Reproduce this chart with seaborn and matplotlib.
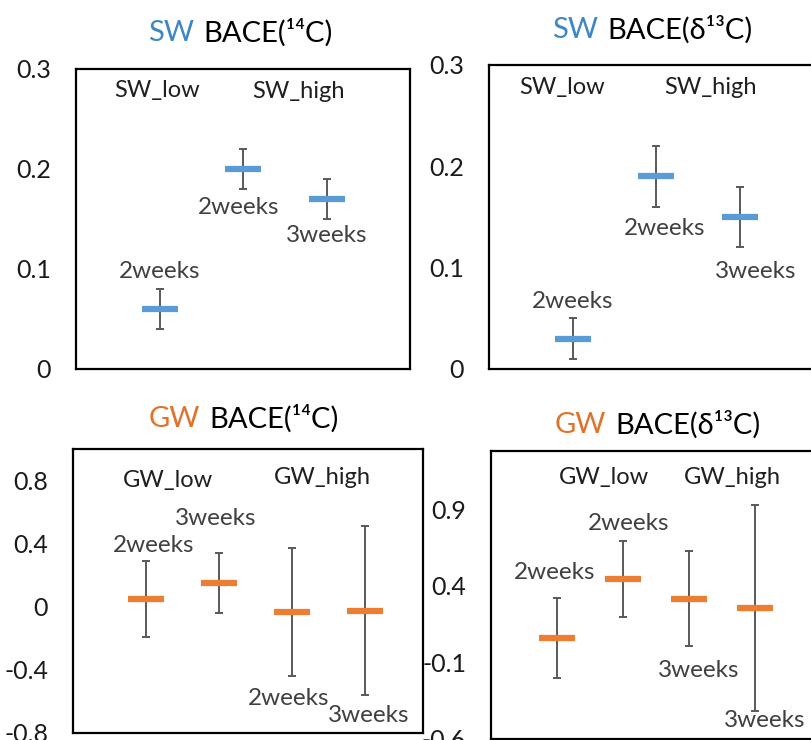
import matplotlib
matplotlib.use("Agg")
import matplotlib.pyplot as plt
import seaborn as sns
import numpy as np

# values
pos3 = [1, 2, 3]
pos4 = [1, 2, 3, 4]

sw14_mean = [0.06, 0.20, 0.17]
sw14_err = [0.02, 0.02, 0.02]
sw14_labels = ["2weeks", "2weeks", "3weeks"]

sw13_mean = [0.03, 0.19, 0.15]
sw13_err = [0.02, 0.03, 0.03]
sw13_labels = ["2weeks", "2weeks", "3weeks"]

gw14_mean = [0.05, 0.15, -0.035, -0.025]
gw14_err = [0.24, 0.19, 0.405, 0.535]
gw14_labels = ["2weeks", "3weeks", "2weeks", "3weeks"]

gw13_mean = [0.06, 0.445, 0.315, 0.255]
gw13_err = [0.26, 0.25, 0.31, 0.67]
gw13_labels = ["2weeks", "2weeks", "3weeks", "3weeks"]

sw_groups = ["SW_low", "SW_high"]
gw_groups = ["GW_low", "GW_high"]

BLUE = "#5B9BD5"
ORANGE = "#ED7D31"
TITLE_BLUE = "#3E86C6"
TITLE_ORANGE = "#E0732A"
GREY = "#595959"

sns.set_style("white")
plt.rcParams['font.family'] = ['Lato', 'DejaVu Sans']

W, H = 811, 740
fig = plt.figure(figsize=(W / 100, H / 100), dpi=100)


def box(x0, x1, y0, y1):
    # pixel box -> figure fraction rect
    return [x0 / W, 1 - y1 / H, (x1 - x0) / W, (y1 - y0) / H]


def panel(rect, xlim, ylim, yticks, ytl, pos, mean, err, color):
    ax = fig.add_axes(rect)
    ax.errorbar(pos, mean, yerr=err, fmt="none", ecolor=GREY,
                elinewidth=1.4, capsize=3, capthick=1.4, zorder=2)
    sns.scatterplot(x=pos, y=mean, ax=ax, marker="_", s=650,
                    color=color, edgecolor=color, linewidth=4.5, zorder=3)
    ax.set_xlim(*xlim)
    ax.set_ylim(*ylim)
    ax.set_xticks([])
    ax.set_yticks(yticks)
    ax.set_yticklabels(ytl, fontsize=18, color="#1a1a1a")
    ax.tick_params(axis="y", direction="in", length=5, width=1, pad=18)
    for s in ax.spines.values():
        s.set_visible(True)
        s.set_color("black")
        s.set_linewidth(1.6)
    ax.set_facecolor("white")
    return ax


def title(xsplit_r, xsplit_l, y, head, rest, color):
    fig.text(xsplit_r / W, 1 - y / H, head, color=color, fontsize=21,
             ha="right", va="center")
    fig.text(xsplit_l / W, 1 - y / H, rest, color="black", fontsize=21,
             ha="left", va="center")


def notes(ax, xs, ys, texts, size=17.5, color="#404040"):
    for x, y, t in zip(xs, ys, texts):
        ax.text(x, y, t, ha="center", va="center", fontsize=size, color=color)


# SW 14C
ax1 = panel(box(76, 410, 69, 369), (0, 4), (0, 0.3), [0, 0.1, 0.2, 0.3],
            ["0", "0.1", "0.2", "0.3"], pos3, sw14_mean, sw14_err, BLUE)
notes(ax1, [0.97, 2.66], [0.279, 0.277], sw_groups, size=17, color="#1f1f1f")
notes(ax1, [1.0, 1.95, 3.0], [0.097, 0.162, 0.133], sw14_labels)
title(194, 203, 33, "SW", "BACE(\u00b9\u2074C)", TITLE_BLUE)

# SW d13C
ax2 = panel(box(489, 823, 65, 369), (0, 4), (0, 0.3), [0, 0.1, 0.2, 0.3],
            ["0", "0.1", "0.2", "0.3"], pos3, sw13_mean, sw13_err, BLUE)
notes(ax2, [0.87, 2.65], [0.278, 0.278], sw_groups, size=17, color="#1f1f1f")
notes(ax2, [1.0, 2.1, 3.19], [0.067, 0.139, 0.096], sw13_labels)
title(598, 607, 30, "SW", "BACE(\u03b4\u00b9\u00b3C)", TITLE_BLUE)

# GW 14C
ax3 = panel(box(73, 423, 449, 733), (0, 4.8), (-0.8, 1.0),
            [-0.8, -0.4, 0, 0.4, 0.8], ["-0.8", "-0.4", "0", "0.4", "0.8"],
            pos4, gw14_mean, gw14_err, ORANGE)
notes(ax3, [1.3, 3.42], [0.80, 0.82], gw_groups, size=17, color="#1f1f1f")
notes(ax3, [1.11, 1.96, 2.96, 4.05], [0.39, 0.56, -0.58, -0.69], gw14_labels)
title(200, 209, 419, "GW", "BACE(\u00b9\u2074C)", TITLE_ORANGE)

# GW d13C
ax4 = panel(box(491, 821, 451, 739), (0, 5), (-0.6, 1.28),
            [-0.6, -0.1, 0.4, 0.9], ["-0.6", "-0.1", "0.4", "0.9"],
            pos4, gw13_mean, gw13_err, ORANGE)
notes(ax4, [1.71, 3.65], [1.11, 1.11], gw_groups, size=17, color="#1f1f1f")
notes(ax4, [0.97, 2.08, 3.14, 4.14], [0.485, 0.81, -0.15, -0.48], gw13_labels)
title(606, 615, 425, "GW", "BACE(\u03b4\u00b9\u00b3C)", TITLE_ORANGE)

fig.savefig("out.png", dpi=100)
